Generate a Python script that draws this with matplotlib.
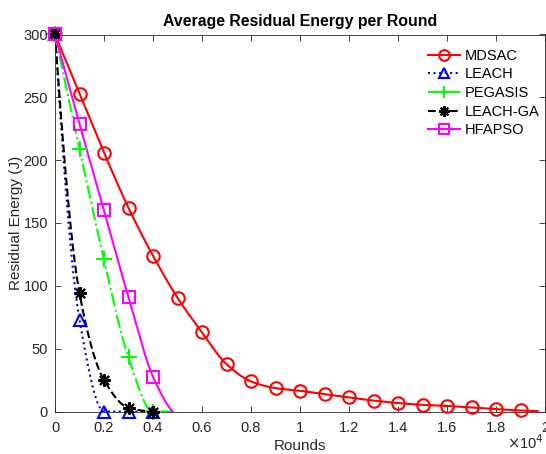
import numpy as np
import matplotlib
matplotlib.use("Agg")
import matplotlib.pyplot as plt
from matplotlib.ticker import FixedLocator, FuncFormatter

plt.rcParams['font.family'] = ['Liberation Sans', 'DejaVu Sans']

# ---- data ----
mdsac_x = [0, 1000, 2000, 3000, 4000, 5000, 6000, 7000, 8000, 9000, 10000,
           11000, 12000, 13000, 14000, 15000, 16000, 17000, 18000, 19000, 19700]
mdsac_y = [300, 253, 206, 162, 124, 90.5, 63, 37.7, 23.9, 18.6, 16.5,
           13.8, 11.2, 8.7, 6.7, 5.3, 4.4, 3.2, 1.9, 0.8, 0.3]

leach_x = [0, 1000, 2000, 3000, 4000]
leach_y = [300, 73, 0, 0, 0]

pegasis_x = [0, 1000, 2000, 3000, 4000, 4800]
pegasis_y = [300, 209, 121, 43, 0, 0]

leachga_x = [0, 1000, 2000, 3000, 4000]
leachga_y = [300, 94, 25, 3, 0]

hfapso_x = [0, 1000, 2000, 3000, 4000, 4800]
hfapso_y = [300, 229, 160, 91, 27.7, 0]

series_names = ['MDSAC', 'LEACH', 'PEGASIS', 'LEACH-GA', 'HFAPSO']


def pchip(x, y, xi):
    x = np.asarray(x, float); y = np.asarray(y, float)
    h = np.diff(x); d = np.diff(y) / h
    n = len(x)
    m = np.zeros(n)
    for k in range(1, n - 1):
        if d[k - 1] * d[k] <= 0:
            m[k] = 0.0
        else:
            w1 = 2 * h[k] + h[k - 1]
            w2 = h[k] + 2 * h[k - 1]
            m[k] = (w1 + w2) / (w1 / d[k - 1] + w2 / d[k])

    def endslope(h0, h1, d0, d1):
        s = ((2 * h0 + h1) * d0 - h0 * d1) / (h0 + h1)
        if np.sign(s) != np.sign(d0):
            s = 0.0
        elif np.sign(d0) != np.sign(d1) and abs(s) > abs(3 * d0):
            s = 3 * d0
        return s
    m[0] = endslope(h[0], h[1], d[0], d[1])
    m[-1] = endslope(h[-1], h[-2], d[-1], d[-2])
    xi = np.asarray(xi, float)
    idx = np.clip(np.searchsorted(x, xi) - 1, 0, n - 2)
    t = (xi - x[idx]) / h[idx]
    h00 = 2 * t**3 - 3 * t**2 + 1
    h10 = t**3 - 2 * t**2 + t
    h01 = -2 * t**3 + 3 * t**2
    h11 = t**3 - t**2
    return h00 * y[idx] + h10 * h[idx] * m[idx] + h01 * y[idx + 1] + h11 * h[idx] * m[idx + 1]


W, H = 546, 454
fig = plt.figure(figsize=(W / 100, H / 100), dpi=100)
ax = fig.add_axes([55 / W, (H - 411.5) / H, 490 / W, 377 / H])

styles = [
    (mdsac_x, mdsac_y, 'red', '-', 'o', 9),
    (leach_x, leach_y, 'blue', ':', '^', 9),
    (pegasis_x, pegasis_y, '#00ff00', '-.', '+', 11),
    (leachga_x, leachga_y, 'black', '--', (8, 2, 0), 9),
    (hfapso_x, hfapso_y, 'magenta', '-', 's', 8),
]

for (xs, ys, c, ls, mk, ms), name in zip(styles, series_names):
    xs = np.asarray(xs, float); ys = np.asarray(ys, float)
    xi = np.linspace(xs[0], xs[-1], 600)
    yi = pchip(xs, ys, xi)
    ax.plot(xi, yi, color=c, linestyle=ls, linewidth=1.5)
    mask = (xs % 1000) == 0
    ax.plot(xs[mask], ys[mask], linestyle='none', marker=mk, markersize=ms,
            markerfacecolor='none', markeredgecolor=c, markeredgewidth=1.5,
            clip_on=False, zorder=3)
    # legend proxy
    ax.plot([], [], color=c, linestyle=ls, linewidth=1.5, marker=mk, markersize=ms * 0.85,
            markerfacecolor='none', markeredgecolor=c, markeredgewidth=1.5, label=name)

ax.set_xlim(0, 20000)
ax.set_ylim(0, 300)
ax.xaxis.set_major_locator(FixedLocator(np.arange(0, 20001, 2000)))
ax.xaxis.set_major_formatter(FuncFormatter(lambda v, p: ('%g' % (v / 1e4))))
ax.yaxis.set_major_locator(FixedLocator(np.arange(0, 301, 50)))

gc = (0.15, 0.15, 0.15)
for s in ax.spines.values():
    s.set_color(gc)
    s.set_linewidth(0.6)
ax.tick_params(direction='in', top=True, right=True, length=4, width=0.6,
               colors=gc, labelsize=10.5, labelcolor=gc)
ax.tick_params(axis='x', pad=7)
ax.tick_params(axis='y', pad=5)

ax.set_title('Average Residual Energy per Round', fontsize=11.4, fontweight='bold', pad=6)
ax.set_xlabel('Rounds', fontsize=11, color=gc, labelpad=3)
ax.set_ylabel('Residual Energy (J)', fontsize=11, color=gc, labelpad=0)
ax.text(0.998, -(449 - 411.5) / 377, r'$\times$10$^{4}$', transform=ax.transAxes,
        ha='right', va='baseline', fontsize=10.5, color=gc)

handles, labels = ax.get_legend_handles_labels()
ax.legend(handles, labels, loc='upper left', bbox_to_anchor=((428 - 55) / 490, 0.962),
          frameon=False, fontsize=10.5, borderpad=0, borderaxespad=0,
          labelspacing=0.32, handlelength=2.2, handletextpad=0.35)

fig.savefig('out.png', dpi=100)
